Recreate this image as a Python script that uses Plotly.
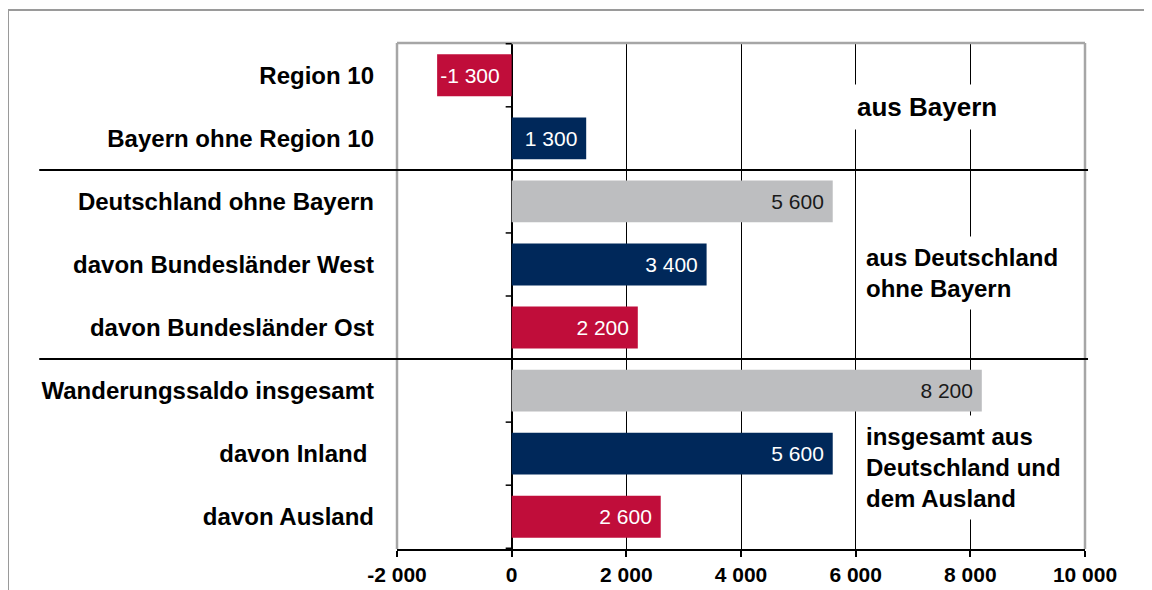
import plotly.graph_objects as go

# data
categories = ["Region 10", "Bayern ohne Region 10", "Deutschland ohne Bayern",
              "davon Bundesländer West", "davon Bundesländer Ost",
              "Wanderungssaldo insgesamt", "davon Inland ", "davon Ausland"]
values = [-1300, 1300, 5600, 3400, 2200, 8200, 5600, 2600]
bar_colors = ["#C00D3A", "#00285A", "#BDBEC0", "#00285A", "#C00D3A",
              "#BDBEC0", "#00285A", "#C00D3A"]
label_colors = ["white", "white", "#1a1a1a", "white", "white",
                "#1a1a1a", "white", "white"]
x_ticks = [-2000, 0, 2000, 4000, 6000, 8000, 10000]
grid_vals = [2000, 4000, 6000, 8000]
group_notes = [
    ("aus Bayern", 5880, 0.5, 26),
    ("aus Deutschland<br>ohne Bayern", 6037, 3.13, 24),
    ("insgesamt aus<br>Deutschland und<br>dem Ausland", 6037, 6.22, 24),
]
separators_at = [1.5, 4.5]


def fmt(v):
    return f"{v:,}".replace(",", " ")


FONT = "Arial, Liberation Sans, sans-serif"

fig = go.Figure(go.Bar(
    y=categories, x=values, orientation="h",
    marker=dict(color=bar_colors, line=dict(width=0)),
    text=[fmt(v) + "\u00a0" for v in values],
    textposition="inside", insidetextanchor="end", constraintext="none",
    insidetextfont=dict(family=FONT, size=21, color=label_colors),
    hoverinfo="skip",
))

shapes = []
# frame around plot (left, top, right) in grey
for x0, y0, x1, y1 in [(0, 0, 0, 1), (0, 1, 1, 1), (1, 0, 1, 1)]:
    shapes.append(dict(type="line", xref="paper", yref="paper", x0=x0, y0=y0, x1=x1, y1=y1,
                       line=dict(color="#A6A6A6", width=2.5), layer="above"))
# group separators
for yb in separators_at:
    shapes.append(dict(type="line", xref="paper", yref="y", x0=-0.52, x1=1.0044, y0=yb, y1=yb,
                       line=dict(color="black", width=2), layer="above"))
# small ticks on the zero axis at category boundaries
for i in range(len(categories) + 1):
    shapes.append(dict(type="line", xref="x", yref="y", xsizemode="pixel", xanchor=0,
                       x0=-6, x1=0, y0=i - 0.5, y1=i - 0.5,
                       line=dict(color="black", width=1.5), layer="above"))
# outer picture frame (top and left)
shapes.append(dict(type="line", xref="paper", yref="paper", x0=-0.5654, x1=1.2, y0=1.0652, y1=1.0652,
                   line=dict(color="#9A9A9A", width=2)))
shapes.append(dict(type="line", xref="paper", yref="paper", x0=-0.5654, x1=-0.5654, y0=-0.2, y1=1.0652,
                   line=dict(color="#9A9A9A", width=2)))

annotations = []
for txt, xv, yv, fs in group_notes:
    annotations.append(dict(text=txt, x=xv, y=yv, xref="x", yref="y", xanchor="left",
                            yanchor="middle", align="left", showarrow=False,
                            bgcolor="white", borderpad=7,
                            font=dict(family=FONT, size=fs, color="black", weight="bold")))

fig.update_layout(
    width=1152, height=590,
    margin=dict(l=389, r=75, t=35, b=49),
    paper_bgcolor="white", plot_bgcolor="white",
    bargap=0.336, showlegend=False,
    shapes=shapes, annotations=annotations,
    font=dict(family=FONT, color="black"),
)
fig.update_xaxes(
    range=[-2000, 10000], tickvals=x_ticks, ticktext=[fmt(v) for v in x_ticks],
    showgrid=False, zeroline=True, zerolinecolor="black", zerolinewidth=1.5,
    minor=dict(tickvals=grid_vals, showgrid=True, gridcolor="black", gridwidth=1, ticks=""),
    showline=True, linecolor="black", linewidth=2,
    ticks="outside", ticklen=6, tickcolor="black", tickwidth=1.5,
    tickfont=dict(family=FONT, size=21, color="black", weight="bold"),
)
fig.update_yaxes(
    autorange="reversed", showgrid=False, showline=False, ticks="",
    ticklabelstandoff=22,
    tickfont=dict(family=FONT, size=24, color="black", weight="bold"),
)

fig.write_html("out.html")
